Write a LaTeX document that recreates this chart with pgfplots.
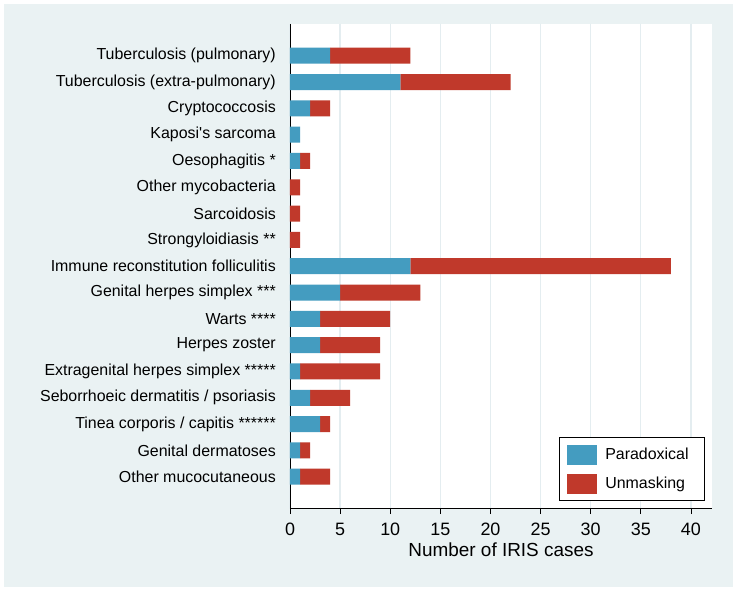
\documentclass[border=0pt]{standalone}
\usepackage{pgfplots}
\pgfplotsset{compat=1.18}
\usepackage{pgfplotstable}
\usepackage{fontspec}
\setmainfont{Liberation Sans}[Ligatures=TeXOff]
\definecolor{bgc}{RGB}{234,242,243}
\definecolor{gridc}{RGB}{228,237,240}
\definecolor{pblue}{RGB}{68,156,192}
\definecolor{ured}{RGB}{192,57,43}
\pgfplotstableread{
idx P U
0 4 8
1 11 11
2 2 2
3 1 0
4 1 1
5 0 1
6 0 1
7 0 1
8 12 26
9 5 8
10 3 7
11 3 6
12 1 8
13 2 4
14 3 1
15 1 1
16 1 3
}\data
\begin{document}
\begin{tikzpicture}
\fill[white] (-290bp,-84bp) rectangle (447bp,508bp);
\fill[bgc] (-286bp,-79bp) rectangle (443bp,504bp);
\begin{axis}[
  at={(0,0)}, anchor=south west,
  scale only axis, width=422bp, height=484bp,
  xbar stacked, bar width=16bp,
  xmin=0, xmax=42.1,
  ymin=-1.205, ymax=17.19, y dir=reverse,
  axis x line=bottom, axis y line=left,
  axis line style={-, black, line width=0.8bp},
  axis background/.style={fill=white},
  xtick={0,5,...,40},
  ytick={0,...,16},
  yticklabels={Tuberculosis (pulmonary),Tuberculosis (extra-pulmonary),Cryptococcosis,Kaposi's sarcoma,Oesophagitis *,Other mycobacteria,Sarcoidosis,Strongyloidiasis **,Immune reconstitution folliculitis,Genital herpes simplex ***,Warts ****,Herpes zoster,Extragenital herpes simplex *****,Seborrhoeic dermatitis / psoriasis,Tinea corporis / capitis ******,Genital dermatoses,Other mucocutaneous},
  y tick style={draw=none},
  x tick style={black, line width=0.8bp},
  tick align=outside, major tick length=6bp,
  /pgf/number format/assume math mode=true,
  xticklabel style={font=\fontsize{18}{20}\selectfont, inner sep=0pt, yshift=-9bp},
  yticklabel style={font=\fontsize{16}{18}\selectfont, inner sep=0pt, xshift=-8bp},
  xlabel={Number of IRIS cases},
  xlabel style={font=\fontsize{19}{21}\selectfont, inner sep=0pt, yshift=-7bp},
  xmajorgrids, major grid style={gridc, line width=1.3bp},
  legend style={at={(0.9834,0.0145)}, anchor=south east, draw=black, line width=0.8bp, fill=white,
    font=\fontsize{16}{18}\selectfont, inner xsep=8bp, inner ysep=7bp, row sep=9bp,
    nodes={inner xsep=8bp}},
  legend cell align=left,
  legend image code/.code={\fill[#1] (0bp,-10bp) rectangle (30bp,10bp);},
]
\addplot[fill=pblue, draw=none] table[x=P, y=idx] {\data};
\addplot[fill=ured, draw=none] table[x=U, y=idx] {\data};
\legend{Paradoxical, Unmasking}
\end{axis}
\end{tikzpicture}
\end{document}
